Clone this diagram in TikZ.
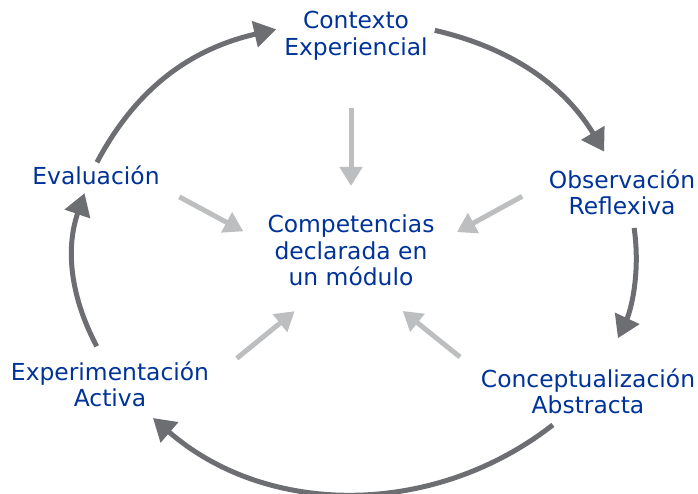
\documentclass[tikz,border=0pt]{standalone}
\usepackage{fontspec}
\setmainfont{DejaVu Sans}
\usetikzlibrary{arrows.meta}
\definecolor{labelblue}{RGB}{0,51,153}
\definecolor{cyclegray}{RGB}{109,110,113}
\definecolor{feedgray}{RGB}{188,190,192}

\begin{document}
\begin{tikzpicture}[x=1pt,y=1pt,
    every node/.style={text=labelblue,align=center,inner sep=2pt,
      font=\fontsize{23.4}{26.5}\selectfont}]
  \useasboundingbox (0,0) rectangle (698,-493);
  \draw
    (351,-250.7) node (0){Competencias\\declarada en\\un módulo}
    (356,-35.7) node (1){Contexto\\Experiencial}
    (622,-192.1) node (2){Observación\\Reflexiva}
    (588,-391.3) node (3){Conceptualización\\Abstracta}
    (110,-384.5) node (4){Experimentación\\Activa}
    (96,-175.8) node (5){Evaluación};
  \begin{scope}[cyclegray,line width=5pt,-{Triangle[length=22pt,width=26pt]}]
    \draw[shorten <=2pt,shorten >=6pt] (5.north) to[out=62,in=193] (1.174);
    \draw[shorten <=5pt,shorten >=18pt] (1.5) to[out=-13,in=121] (2.109);
    \draw[shorten <=11pt,shorten >=31pt] (2.-67) to[out=-82,in=65] (3.56);
    \draw[shorten <=14pt,shorten >=13pt] (3.226) to[out=218,in=-41] (4.-37);
    \draw[shorten <=15pt,shorten >=6pt] (4.104) to[out=118,in=251] (5.231);
  \end{scope}
  \begin{scope}[feedgray,line width=5pt,-{Triangle[length=19pt,width=22pt]}]
    \draw[shorten <=46pt,shorten >=27pt] (0.north |- 1.south) to (0.north);
    \draw[shorten <=20pt,shorten >=25pt] (5.-10) to (0.175);
    \draw[shorten <=28pt,shorten >=23pt] (2.173) to (0.5);
    \draw[shorten <=33pt,shorten >=36pt] (4.3) to (0.-127);
    \draw[shorten <=24pt,shorten >=36pt] (3.170) to (0.-58);
  \end{scope}
\end{tikzpicture}
\end{document}
